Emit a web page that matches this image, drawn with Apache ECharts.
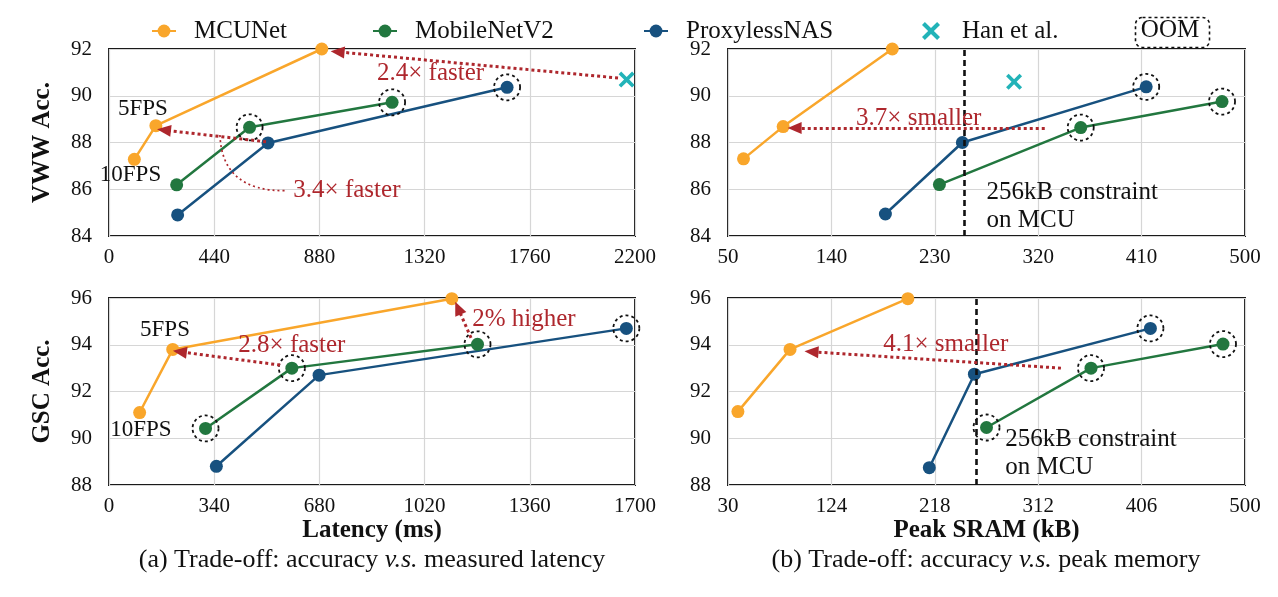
<!DOCTYPE html>
<html><head><meta charset="utf-8">
<script src="https://cdn.jsdelivr.net/npm/echarts@6/dist/echarts.min.js"></script>
<style>html,body{margin:0;padding:0;background:#fff}#c{width:1278px;height:597px}</style>
</head><body><div id="c"></div>
<script>
// ================= DATA =================
const legendNames = ['MCUNet', 'MobileNetV2', 'ProxylessNAS', 'Han et al.'];

// (a) VWW accuracy vs measured latency (ms)
const vwwLatMCUNet    = [[106, 87.28], [196, 88.72], [890, 92.0]];
const vwwLatMbV2      = [[283, 86.19], [588, 88.65], [1184, 89.72]];
const vwwLatProxyless = [[287, 84.9], [665, 87.98], [1665, 90.36]];
const vwwLatHan       = [[2165, 90.69]];
const vwwLatOOM       = [[588, 88.65], [1184, 89.72], [1665, 90.36]];

// (b) VWW accuracy vs peak SRAM (kB)
const vwwMemMCUNet    = [[63.5, 87.3], [98, 88.68], [193, 92.0]];
const vwwMemMbV2      = [[234, 86.2], [357, 88.64], [480, 89.75]];
const vwwMemProxyless = [[187, 84.94], [254, 88.0], [414, 90.38]];
const vwwMemHan       = [[299, 90.6]];
const vwwMemOOM       = [[357, 88.64], [480, 89.75], [414, 90.38]];

// (c) GSC accuracy vs measured latency (ms)
const gscLatMCUNet    = [[99, 91.1], [206, 93.8], [1108, 95.97]];
const gscLatMbV2      = [[312, 90.42], [591, 93.0], [1191, 94.02]];
const gscLatProxyless = [[347, 88.8], [679, 92.7], [1672, 94.7]];
const gscLatOOM       = [[312, 90.42], [591, 93.0], [1191, 94.02], [1672, 94.7]];

// (d) GSC accuracy vs peak SRAM (kB)
const gscMemMCUNet    = [[39, 91.14], [86.4, 93.8], [193.5, 95.97]];
const gscMemMbV2      = [[265, 90.46], [360, 93.0], [480, 94.03]];
const gscMemProxyless = [[213, 88.74], [254, 92.74], [414, 94.7]];
const gscMemOOM       = [[265, 90.46], [360, 93.0], [480, 94.03], [414, 94.7]];

// SRAM constraint
const sramLimit = 256;

// tick labels
const latVwwTicks = [0, 440, 880, 1320, 1760, 2200];
const latGscTicks = [0, 340, 680, 1020, 1360, 1700];
const memVwwTicks = [50, 140, 230, 320, 410, 500];
const memGscTicks = [30, 124, 218, 312, 406, 500];
const accVwwTicks = [84, 86, 88, 90, 92];
const accGscTicks = [88, 90, 92, 94, 96];

// annotation texts (anchored in data coordinates)
const notesA = [
  { text: '5FPS', at: [142, 89.43], kind: 'black' },
  { text: '10FPS', at: [90, 86.62], kind: 'black' },
  { text: '2.4× faster', at: [1345, 90.95], kind: 'red' },
  { text: '3.4× faster', at: [995, 85.95], kind: 'red' }
];
const arrowsA = [[[2129, 90.76], [956, 91.88]], [[657, 88.03], [230, 88.53]]];
// leader curve: start, control, end
const curveA = [[464, 88.32, 473, 85.9, 740, 85.94]];

const notesB = [
  { text: '3.7× smaller', at: [216, 89.05], kind: 'red' },
  { text: '256kB constraint\non MCU', at: [275, 85.26], kind: 'left' }
];
const arrowsB = [[[325.7, 88.62], [108, 88.62]]];

const notesC = [
  { text: '5FPS', at: [181, 94.63], kind: 'black' },
  { text: '10FPS', at: [103, 90.35], kind: 'black' },
  { text: '2.8× faster', at: [591, 93.95], kind: 'red' },
  { text: '2% higher', at: [1341, 95.1], kind: 'red' }
];
const arrowsC = [[[553, 93.13], [229, 93.7]], [[1170, 94.29], [1128, 95.57]]];

const notesD = [
  { text: '4.1× smaller', at: [228, 94.03], kind: 'red' },
  { text: '256kB constraint\non MCU', at: [282, 89.35], kind: 'left' }
];
const arrowsD = [[[332.7, 93.0], [105.9, 93.7]]];

const captionA = '(a) Trade-off: accuracy {i|v.s.} measured latency';
const captionB = '(b) Trade-off: accuracy {i|v.s.} peak memory';

// ================= STYLE =================
const FONT = 'Liberation Serif';
const C_MCU = '#F9A62B', C_MBV2 = '#22773F', C_PROXY = '#17517F', C_HAN = '#22B3B8', RED = '#AE272D';
const INK = '#111111';
const HAN_PATH = 'path://M1.6,0 L5,3.4 L8.4,0 L10,1.6 L6.6,5 L10,8.4 L8.4,10 L5,6.6 L1.6,10 L0,8.4 L3.4,5 L0,1.6 Z';

const grids = [
  { left: 109, top: 49, width: 526, height: 187 },
  { left: 728, top: 49, width: 517, height: 187 },
  { left: 109, top: 298, width: 526, height: 187 },
  { left: 728, top: 298, width: 517, height: 187 }
].map(g => Object.assign(g, { show: true, borderColor: '#1a1a1a', borderWidth: 2, backgroundColor: '#fff' }));

function xAxis(idx, ticks, name) {
  return {
    type: 'value', gridIndex: idx,
    min: ticks[0], max: ticks[ticks.length - 1], interval: ticks[1] - ticks[0],
    axisLine: { show: false }, axisTick: { show: false },
    splitLine: { show: true, lineStyle: { color: '#d6d6d6', width: 1.2 } },
    axisLabel: { fontFamily: FONT, fontSize: 21, color: INK, margin: 11, lineHeight: 21, formatter: v => String(v) },
    name: name || '', nameLocation: 'middle', nameGap: 31,
    nameTextStyle: { fontFamily: FONT, fontSize: 25, fontWeight: 'bold', color: INK, lineHeight: 25 }
  };
}
function yAxis(idx, ticks, name) {
  return {
    type: 'value', gridIndex: idx,
    min: ticks[0], max: ticks[ticks.length - 1], interval: ticks[1] - ticks[0],
    axisLine: { show: false }, axisTick: { show: false },
    splitLine: { show: true, lineStyle: { color: '#d6d6d6', width: 1.2 } },
    axisLabel: { fontFamily: FONT, fontSize: 21, color: INK, margin: 17, formatter: v => String(v) },
    name: name || '', nameLocation: 'middle', nameGap: 54, nameRotate: 90,
    nameTextStyle: { fontFamily: FONT, fontSize: 25, fontWeight: 'bold', color: INK, lineHeight: 25 }
  };
}

function line(name, data, color, i) {
  return { type: 'line', name, data, xAxisIndex: i, yAxisIndex: i, symbol: 'circle', symbolSize: 13,
    lineStyle: { width: 2.5, color }, itemStyle: { color, opacity: 1 }, clip: false, z: 3, silent: true, animation: false };
}
function han(data, i) {
  return { type: 'scatter', name: 'Han et al.', data, xAxisIndex: i, yAxisIndex: i, symbol: HAN_PATH,
    symbolSize: 16, itemStyle: { color: C_HAN, opacity: 1 }, clip: false, z: 3, silent: true, animation: false };
}
function oom(data, i, vline) {
  const s = { type: 'scatter', name: 'OOM', data, xAxisIndex: i, yAxisIndex: i, symbol: 'circle', symbolSize: 26,
    itemStyle: { color: 'rgba(0,0,0,0)', borderColor: '#111', borderWidth: 1.8, borderType: [3, 3], opacity: 1 },
    clip: false, z: 4, silent: true, animation: false };
  if (vline) {
    s.markLine = { silent: true, symbol: 'none', animation: false, label: { show: false },
      lineStyle: { color: '#111', width: 2.6, type: [6, 4] }, data: [{ xAxis: sramLimit }] };
  }
  return s;
}
function notes(list, arrows, i) {
  const data = list.map(n => {
    const lab = { show: true, formatter: n.text, fontFamily: FONT, fontSize: 25, lineHeight: 28,
      textBorderWidth: 0, textBorderColor: 'transparent', textShadowBlur: 0, opacity: 1 };
    if (n.kind === 'red') { lab.color = RED; lab.position = 'inside'; }
    else if (n.kind === 'black') { lab.color = INK; lab.fontSize = 23; lab.position = 'inside'; }
    else { lab.color = INK; lab.position = 'right'; lab.distance = 0; lab.align = 'left'; }
    return { value: n.at, label: lab };
  });
  const ml = arrows.map(a => [{ coord: a[0], symbol: 'none' }, { coord: a[1], symbol: 'triangle', symbolSize: [12, 14] }]);
  return {
    type: 'scatter', name: 'notes' + i, data, xAxisIndex: i, yAxisIndex: i, symbolSize: 0,
    itemStyle: { color: 'rgba(0,0,0,0)', opacity: 1 },
    clip: false, z: 5, silent: true, animation: false,
    markLine: { silent: true, animation: false, label: { show: false }, symbolSize: [12, 14],
      lineStyle: { color: RED, width: 3, type: [3, 3], opacity: 1 }, itemStyle: { opacity: 1 }, data: ml }
  };
}
function leader(data, i) {
  return {
    type: 'custom', name: 'leader' + i, xAxisIndex: i, yAxisIndex: i, data, clip: false, z: 5, silent: true, animation: false,
    renderItem: (params, api) => {
      const p0 = api.coord([api.value(0), api.value(1)]);
      const cp = api.coord([api.value(2), api.value(3)]);
      const p1 = api.coord([api.value(4), api.value(5)]);
      return { type: 'bezierCurve',
        shape: { x1: p0[0], y1: p0[1], cpx1: cp[0], cpy1: cp[1], x2: p1[0], y2: p1[1] },
        style: { stroke: RED, fill: null, lineWidth: 1.7, lineDash: [2, 3] } };
    }
  };
}

const legendBase = { itemWidth: 24, itemHeight: 16, top: 12, selectedMode: false,
  textStyle: { fontFamily: FONT, fontSize: 25, color: INK, lineHeight: 28, padding: [0, 0, 0, 13] } };

const option = {
  animation: false,
  backgroundColor: '#fff',
  grid: grids,
  xAxis: [xAxis(0, latVwwTicks), xAxis(1, memVwwTicks), xAxis(2, latGscTicks, 'Latency (ms)'), xAxis(3, memGscTicks, 'Peak SRAM (kB)')],
  yAxis: [yAxis(0, accVwwTicks, 'VWW Acc.'), yAxis(1, accVwwTicks), yAxis(2, accGscTicks, 'GSC Acc.'), yAxis(3, accGscTicks)],
  legend: [
    Object.assign({}, legendBase, { left: 146, data: [legendNames[0]] }),
    Object.assign({}, legendBase, { left: 367, data: [legendNames[1]] }),
    Object.assign({}, legendBase, { left: 638, data: [legendNames[2]] }),
    Object.assign({}, legendBase, { left: 917, itemWidth: 18, itemHeight: 18,
      textStyle: Object.assign({}, legendBase.textStyle, { padding: [0, 0, 0, 17] }),
      data: [{ name: legendNames[3], icon: HAN_PATH }] })
  ],
  graphic: [
    { type: 'rect', left: 1133, top: 15, shape: { width: 74, height: 30, r: 7 },
      style: { fill: 'none', stroke: '#111', lineWidth: 1.6, lineDash: [3, 3] } },
    { type: 'text', x: 1170, y: 30, style: { text: 'OOM', fontFamily: FONT, fontSize: 25, fill: INK, align: 'center', verticalAlign: 'middle' } },
    { type: 'text', x: 372, y: 560, style: { text: captionA, fontFamily: FONT, fontSize: 26, fill: INK, align: 'center', verticalAlign: 'middle',
      rich: { i: { fontFamily: FONT, fontSize: 26, fontStyle: 'italic', fill: INK } } } },
    { type: 'text', x: 986, y: 560, style: { text: captionB, fontFamily: FONT, fontSize: 26, fill: INK, align: 'center', verticalAlign: 'middle',
      rich: { i: { fontFamily: FONT, fontSize: 26, fontStyle: 'italic', fill: INK } } } }
  ],
  series: [
    line('MCUNet', vwwLatMCUNet, C_MCU, 0), line('MobileNetV2', vwwLatMbV2, C_MBV2, 0), line('ProxylessNAS', vwwLatProxyless, C_PROXY, 0),
    han(vwwLatHan, 0), oom(vwwLatOOM, 0, false), notes(notesA, arrowsA, 0), leader(curveA, 0),

    line('MCUNet', vwwMemMCUNet, C_MCU, 1), line('MobileNetV2', vwwMemMbV2, C_MBV2, 1), line('ProxylessNAS', vwwMemProxyless, C_PROXY, 1),
    han(vwwMemHan, 1), oom(vwwMemOOM, 1, true), notes(notesB, arrowsB, 1),

    line('MCUNet', gscLatMCUNet, C_MCU, 2), line('MobileNetV2', gscLatMbV2, C_MBV2, 2), line('ProxylessNAS', gscLatProxyless, C_PROXY, 2),
    oom(gscLatOOM, 2, false), notes(notesC, arrowsC, 2),

    line('MCUNet', gscMemMCUNet, C_MCU, 3), line('MobileNetV2', gscMemMbV2, C_MBV2, 3), line('ProxylessNAS', gscMemProxyless, C_PROXY, 3),
    oom(gscMemOOM, 3, true), notes(notesD, arrowsD, 3)
  ]
};

const chart = echarts.init(document.getElementById('c'), null, { renderer: 'canvas' });
chart.setOption(option);
</script>
</body></html>
